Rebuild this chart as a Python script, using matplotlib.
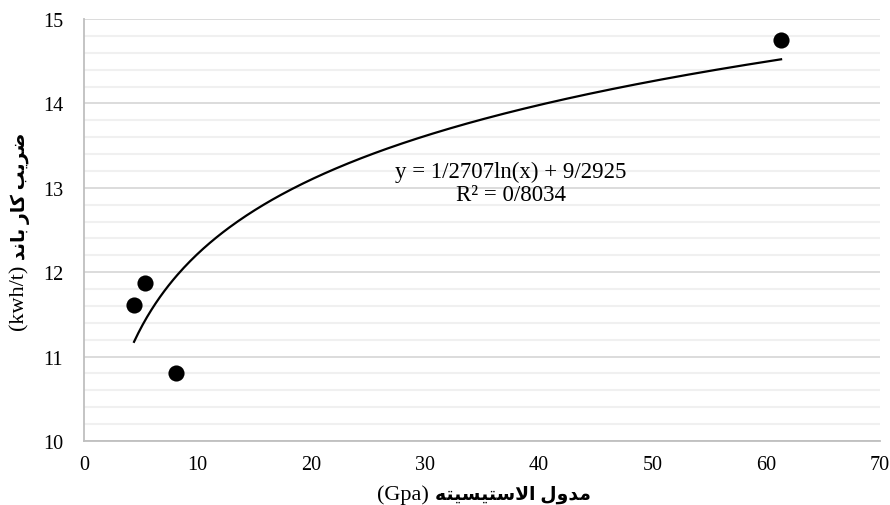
import numpy as np
import matplotlib
matplotlib.use("Agg")
import matplotlib.pyplot as plt
from matplotlib.ticker import MultipleLocator

# ---- data ----
x_vals = [4.4, 5.35, 8.1, 61.3]
y_vals = [11.61, 11.87, 10.81, 14.75]
trend_a = 1.2707
trend_b = 9.2925
eq_text = "y = 1/2707ln(x) + 9/2925\nR² = 0/8034"
x_label_fa = "مدول الاستیسیته"
x_label_unit = "(Gpa)"
y_label_fa = "ضریب کار باند"
y_label_unit = "(kwh/t)"
x_ticks = [0, 10, 20, 30, 40, 50, 60, 70]
y_ticks = [10, 11, 12, 13, 14, 15]

# ---- minimal Arabic/Persian shaper (presentation forms + visual order) ----
FORMS = {  # isol, fina, init, medi
    '\u0627': ('\uFE8D', '\uFE8E', None, None),
    '\u0628': ('\uFE8F', '\uFE90', '\uFE91', '\uFE92'),
    '\u062A': ('\uFE95', '\uFE96', '\uFE97', '\uFE98'),
    '\u062F': ('\uFEA9', '\uFEAA', None, None),
    '\u0631': ('\uFEAD', '\uFEAE', None, None),
    '\u0633': ('\uFEB1', '\uFEB2', '\uFEB3', '\uFEB4'),
    '\u0636': ('\uFEBD', '\uFEBE', '\uFEBF', '\uFEC0'),
    '\u0644': ('\uFEDD', '\uFEDE', '\uFEDF', '\uFEE0'),
    '\u0645': ('\uFEE1', '\uFEE2', '\uFEE3', '\uFEE4'),
    '\u0646': ('\uFEE5', '\uFEE6', '\uFEE7', '\uFEE8'),
    '\u0647': ('\uFEE9', '\uFEEA', '\uFEEB', '\uFEEC'),
    '\u0648': ('\uFEED', '\uFEEE', None, None),
    '\u06CC': ('\uFBFC', '\uFBFD', '\uFBFE', '\uFBFF'),
    '\u06A9': ('\uFB8E', '\uFB8F', '\uFB90', '\uFB91'),
}


def shape_word(w):
    chars = list(w)
    out = []
    n = len(chars)
    i = 0
    prev_joins = False
    while i < n:
        c = chars[i]
        if c == '\u0644' and i + 1 < n and chars[i + 1] == '\u0627':
            out.append('\uFEFC' if prev_joins else '\uFEFB')
            prev_joins = False
            i += 2
            continue
        f = FORMS.get(c)
        if f is None:
            out.append(c)
            prev_joins = False
            i += 1
            continue
        nxt = chars[i + 1] if i + 1 < n else None
        next_ok = nxt in FORMS and f[2] is not None
        if prev_joins and next_ok:
            g = f[3]
        elif prev_joins:
            g = f[1]
        elif next_ok:
            g = f[2]
        else:
            g = f[0]
        out.append(g)
        prev_joins = f[2] is not None
        i += 1
    return ''.join(reversed(out))


def visual(s):
    return ' '.join(reversed([shape_word(t) for t in s.split(' ')]))


plt.rcParams['font.family'] = ['Liberation Serif', 'DejaVu Sans']

W, H = 890, 506
fig = plt.figure(figsize=(W / 100, H / 100), dpi=100)
ax = fig.add_axes([84 / W, 1 - 442 / H, (880 - 84) / W, (442 - 20) / H])

ax.set_xlim(0, 70)
ax.set_ylim(10, 15)
ax.set_xticks(x_ticks)
ax.set_yticks(y_ticks)
ax.set_xticklabels([str(v) for v in x_ticks], fontsize=14.5)
ax.set_yticklabels([str(v) for v in y_ticks], fontsize=14.5)
ax.yaxis.set_minor_locator(MultipleLocator(0.2))
ax.tick_params(which='both', length=0)
ax.tick_params(axis='x', pad=10)
ax.tick_params(axis='y', pad=15)

ax.grid(which='minor', axis='y', color='#f0f0f0', linewidth=1.5)
ax.grid(which='major', axis='y', color='#d9d9d9', linewidth=1.3)
ax.set_axisbelow(True)
for s in ['top', 'right']:
    ax.spines[s].set_visible(False)
for s in ['left', 'bottom']:
    ax.spines[s].set_color('#bfbfbf')
    ax.spines[s].set_linewidth(1.3)

xt = np.linspace(min(x_vals), max(x_vals), 300)
ax.plot(xt, trend_a * np.log(xt) + trend_b, color='black', linewidth=1.6, zorder=3)
ax.scatter(x_vals, y_vals, s=135, color='black', zorder=4, linewidths=0)

ax.text(37.55, 13.06, eq_text, ha='center', va='center', fontsize=16.5,
        linespacing=1.12)

# ---- axis labels: Persian part bold, unit part regular ----
renderer = fig.canvas.get_renderer()
UNIT_FS = 16
FA_FS = 13.5


def place_label(fa, unit, center, across, rotation):
    # visual order: unit then Persian (left→right / bottom→top)
    t_unit = fig.text(0, 0, unit + ' ', fontsize=UNIT_FS, rotation=rotation,
                      ha='left', va='center', transform=None)
    t_fa = fig.text(0, 0, visual(fa), fontsize=FA_FS, fontweight='bold',
                    rotation=rotation, ha='left', va='center', transform=None)
    bu = t_unit.get_window_extent(renderer)
    bf = t_fa.get_window_extent(renderer)
    if rotation == 0:
        wu, wf = bu.width, bf.width
        start = center - (wu + wf) / 2
        t_unit.set_position((start, across))
        t_fa.set_position((start + wu, across))
    else:
        wu, wf = bu.height, bf.height
        start = center - (wu + wf) / 2
        t_unit.set_ha('center'); t_fa.set_ha('center')
        t_unit.set_va('bottom'); t_fa.set_va('bottom')
        t_unit.set_position((across, start))
        t_fa.set_position((across, start + wu))


place_label(x_label_fa, x_label_unit, 484, H - 495, 0)
place_label(y_label_fa, y_label_unit, H - 232, 20, 90)

fig.savefig('out.png', dpi=100)
